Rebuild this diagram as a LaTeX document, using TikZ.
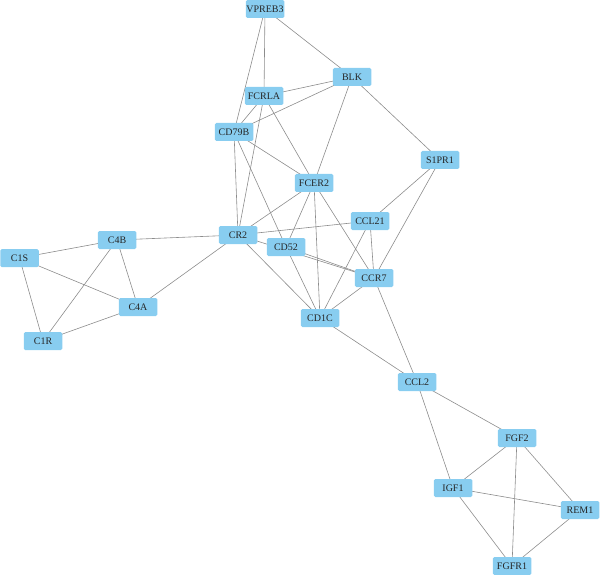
\documentclass[tikz,border=0pt]{standalone}
\usepackage{fontspec}
\setmainfont{Liberation Serif}
\usetikzlibrary{positioning,backgrounds}
\definecolor{genefill}{HTML}{88CDF0}
\definecolor{edgegray}{HTML}{8C8C8C}

\begin{document}
\begin{tikzpicture}[x=1pt, y=-1pt, font=\fontsize{10}{12}\selectfont,
  gene/.style={fill=genefill, draw=none, rounded corners=1.5pt, inner sep=0pt, minimum width=38.5pt, minimum height=18pt, text=black!85},
  link/.style={draw=edgegray, line width=0.6pt}]
\useasboundingbox (0,0) rectangle (600,575);
\node[gene] (vpreb3) at (265,9) {VPREB3};
\node[gene] (blk) at (352,77) {BLK};
\node[gene] (fcrla) at (264,96) {FCRLA};
\node[gene] (cd79b) at (234,132) {CD79B};
\node[gene] (fcer2) at (314,183) {FCER2};
\node[gene] (s1pr1) at (440,160) {S1PR1};
\node[gene] (cr2) at (238,235) {CR2};
\node[gene] (cd52) at (286,247) {CD52};
\node[gene] (ccl21) at (370,221) {CCL21};
\node[gene] (ccr7) at (374,278) {CCR7};
\node[gene] (cd1c) at (320,318) {CD1C};
\node[gene] (c4b) at (117,240) {C4B};
\node[gene] (c1s) at (19.5,258) {C1S};
\node[gene] (c4a) at (138,307) {C4A};
\node[gene] (c1r) at (43,341) {C1R};
\node[gene] (ccl2) at (417,382) {CCL2};
\node[gene] (fgf2) at (517,438) {FGF2};
\node[gene] (igf1) at (453,488) {IGF1};
\node[gene] (rem1) at (580,510) {REM1};
\node[gene] (fgfr1) at (512,566) {FGFR1};
\begin{scope}[on background layer]
\foreach \u/\v in {vpreb3/blk, vpreb3/fcrla, vpreb3/cd79b, blk/fcrla, blk/cd79b, blk/fcer2, blk/s1pr1,
  fcrla/cd79b, fcrla/fcer2, fcrla/cr2, cd79b/fcer2, cd79b/cr2, cd79b/cd52,
  fcer2/cr2, fcer2/cd52, fcer2/cd1c, fcer2/ccr7, s1pr1/ccl21, s1pr1/ccr7,
  cr2/ccl21, cr2/ccr7, cr2/cd1c, cr2/c4b, cr2/c4a, cd52/ccr7, cd52/cd1c,
  ccl21/ccr7, ccl21/cd1c, ccr7/cd1c, ccr7/ccl2, cd1c/ccl2,
  c4b/c1s, c4b/c1r, c4b/c4a, c1s/c4a, c1s/c1r, c1r/c4a,
  ccl2/fgf2, ccl2/igf1, fgf2/igf1, fgf2/rem1, fgf2/fgfr1, igf1/rem1, igf1/fgfr1, rem1/fgfr1}
  \draw[link] (\u.center) -- (\v.center);
\end{scope}
\end{tikzpicture}
\end{document}
